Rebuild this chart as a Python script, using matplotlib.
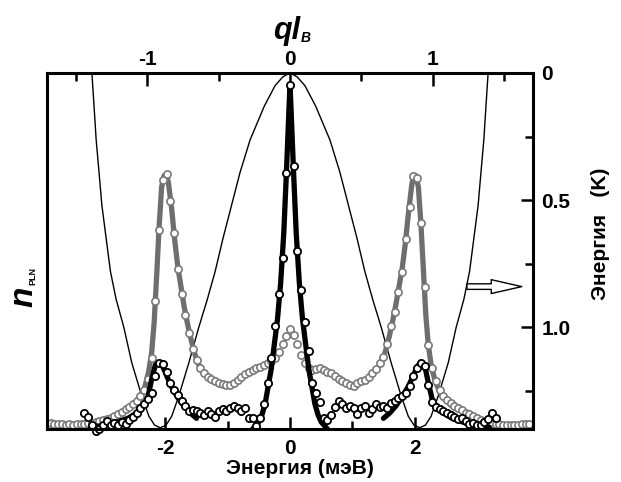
import matplotlib
matplotlib.use('Agg')
import matplotlib.pyplot as plt

plt.rcParams['font.family'] = ['Liberation Sans', 'DejaVu Sans']
plt.rcParams['font.weight'] = 'bold'

# --- data: gray series (measured points), energy in meV, n_PLN in axis units ---
gray_E = [-3.84, -3.78, -3.72, -3.66, -3.60, -3.54, -3.48, -3.42, -3.36, -3.30,
          -3.24, -3.18, -3.12, -3.06, -3.00, -2.94, -2.88, -2.82, -2.76, -2.70,
          -2.64, -2.58, -2.52, -2.46, -2.40, -2.34, -2.28, -2.22, -2.16, -2.10,
          -2.04, -1.98, -1.92, -1.86, -1.80, -1.74, -1.68, -1.62, -1.56, -1.50,
          -1.44, -1.38, -1.32, -1.26, -1.20, -1.14, -1.08, -1.02, -0.96, -0.90,
          -0.84, -0.78, -0.72, -0.66, -0.60, -0.54, -0.48, -0.42, -0.36, -0.30,
          -0.24, -0.18, -0.12, -0.06,
          0.00, 0.06, 0.12, 0.18, 0.24, 0.30, 0.36, 0.42, 0.48, 0.54,
          0.60, 0.66, 0.72, 0.78, 0.84, 0.90, 0.96, 1.02, 1.08, 1.14,
          1.20, 1.26, 1.32, 1.38, 1.44, 1.50, 1.56, 1.62, 1.68, 1.74,
          1.80, 1.86, 1.92, 1.98, 2.04, 2.10, 2.16, 2.22, 2.28, 2.34,
          2.40, 2.46, 2.52, 2.58, 2.64, 2.70, 2.76, 2.82, 2.88, 2.94,
          3.00, 3.06, 3.12, 3.18, 3.24, 3.30, 3.36, 3.42, 3.48, 3.54,
          3.60, 3.66, 3.72, 3.78, 3.84]
gray_n = [0.016, 0.015, 0.014, 0.013, 0.012, 0.013, 0.012, 0.013, 0.014, 0.015,
          0.016, 0.017, 0.019, 0.022, 0.025, 0.028, 0.032, 0.037, 0.042, 0.048,
          0.055, 0.062, 0.070, 0.080, 0.092, 0.110, 0.140, 0.200, 0.360, 0.560,
          0.700, 0.715, 0.640, 0.550, 0.450, 0.380, 0.320, 0.270, 0.225, 0.195,
          0.170, 0.158, 0.147, 0.140, 0.134, 0.130, 0.126, 0.123, 0.125, 0.130,
          0.138, 0.147, 0.155, 0.160, 0.166, 0.170, 0.175, 0.180, 0.185, 0.192,
          0.200, 0.215, 0.238, 0.262,
          0.280, 0.265, 0.240, 0.207, 0.185, 0.172, 0.167, 0.169, 0.171, 0.166,
          0.161, 0.156, 0.150, 0.141, 0.135, 0.130, 0.125, 0.121, 0.128, 0.135,
          0.139, 0.146, 0.158, 0.168, 0.185, 0.203, 0.240, 0.288, 0.330, 0.385,
          0.440, 0.535, 0.625, 0.712, 0.706, 0.579, 0.400, 0.235, 0.170, 0.135,
          0.110, 0.094, 0.082, 0.072, 0.066, 0.059, 0.052, 0.046, 0.041, 0.036,
          0.031, 0.026, 0.021, 0.018, 0.016, 0.015, 0.013, 0.012, 0.012, 0.012,
          0.012, 0.012, 0.013, 0.014, 0.015]

# --- black series (measured points) ---
black_E = [-3.30, -3.24, -3.18, -3.12, -3.06, -3.00, -2.94, -2.88, -2.82, -2.76,
           -2.70, -2.64, -2.58, -2.52, -2.46, -2.40, -2.34, -2.28, -2.22, -2.16,
           -2.10, -2.04, -1.98, -1.92, -1.86, -1.80, -1.74, -1.68, -1.62, -1.56,
           -1.50, -1.44, -1.38, -1.32, -1.26, -1.20, -1.14, -1.08, -1.02, -0.96,
           -0.90, -0.84, -0.78, -0.72, -0.66, -0.60, -0.54, -0.48, -0.42, -0.36,
           -0.30, -0.24, -0.18, -0.12, -0.06,
           0.00, 0.06, 0.12, 0.18, 0.24, 0.30, 0.36, 0.42, 0.48, 0.54,
           0.60, 0.66, 0.72, 0.78, 0.84, 0.90, 0.96, 1.02, 1.08, 1.14,
           1.20, 1.26, 1.32, 1.38, 1.44, 1.50, 1.56, 1.62, 1.68, 1.74,
           1.80, 1.86, 1.92, 1.98, 2.04, 2.10, 2.16, 2.22, 2.28, 2.34,
           2.40, 2.46, 2.52, 2.58, 2.64, 2.70, 2.76, 2.82, 2.88, 2.94,
           3.00, 3.06, 3.12, 3.18, 3.24, 3.30]
black_n = [0.045, 0.035, 0.010, -0.005, 0.000, 0.010, 0.022, 0.012, 0.018, 0.010,
           0.020, 0.015, 0.025, 0.035, 0.045, 0.060, 0.070, 0.085, 0.100, 0.150,
           0.185, 0.182, 0.160, 0.130, 0.110, 0.095, 0.080, 0.065, 0.050, 0.052,
           0.050, 0.045, 0.040, 0.050, 0.043, 0.035, 0.050, 0.055, 0.050, 0.058,
           0.065, 0.060, 0.050, 0.060, 0.030, 0.030, 0.008, 0.030, 0.070, 0.130,
           0.200, 0.290, 0.380, 0.480, 0.720,
           0.965, 0.740, 0.500, 0.390, 0.300, 0.220, 0.130, 0.100, 0.075, 0.030,
           0.025, 0.040, 0.062, 0.078, 0.070, 0.058, 0.064, 0.058, 0.042, 0.060,
           0.066, 0.045, 0.055, 0.070, 0.062, 0.064, 0.060, 0.072, 0.080, 0.088,
           0.093, 0.100, 0.120, 0.148, 0.172, 0.186, 0.178, 0.125, 0.075, 0.062,
           0.055, 0.050, 0.046, 0.040, 0.035, 0.028, 0.030, 0.022, 0.015, 0.018,
           0.010, 0.012, 0.020, 0.028, 0.045, 0.030]

# --- fitted curves (thick lines) ---
black_fit_E = [-3.2, -3.0, -2.8, -2.6, -2.46, -2.36, -2.28, -2.22, -2.16, -2.10,
               -2.04, -1.98, -1.90, -1.80, -1.70, -1.60, -1.50]
black_fit_n = [0.005, 0.010, 0.018, 0.030, 0.045, 0.062, 0.090, 0.140, 0.180, 0.188,
               0.175, 0.150, 0.118, 0.088, 0.064, 0.045, 0.030]
black_fit_c_E = [-0.60, -0.50, -0.45, -0.40, -0.35, -0.30, -0.25, -0.20, -0.15, -0.10,
                 -0.06, -0.03, 0.00, 0.03, 0.06, 0.10, 0.15, 0.20, 0.25, 0.30,
                 0.35, 0.40, 0.45, 0.50, 0.60]
black_fit_c_n = [0.000, 0.020, 0.040, 0.070, 0.120, 0.170, 0.240, 0.310, 0.410, 0.550,
                 0.710, 0.840, 0.970, 0.840, 0.710, 0.550, 0.410, 0.310, 0.240, 0.170,
                 0.120, 0.070, 0.040, 0.020, 0.000]
black_fit_r_E = [1.50, 1.60, 1.70, 1.80, 1.90, 1.98, 2.04, 2.10, 2.16, 2.22,
                 2.28, 2.36, 2.46, 2.60, 2.80, 3.00, 3.20]
black_fit_r_n = [0.030, 0.045, 0.065, 0.090, 0.120, 0.150, 0.175, 0.188, 0.180, 0.130,
                 0.085, 0.060, 0.045, 0.030, 0.018, 0.010, 0.005]

gray_fit_l_E = [-2.60, -2.50, -2.40, -2.33, -2.27, -2.22, -2.18, -2.14, -2.10, -2.06,
                -2.02, -1.98, -1.95, -1.90, -1.85, -1.80, -1.75, -1.70, -1.65, -1.60,
                -1.55, -1.50, -1.45]
gray_fit_l_n = [0.060, 0.072, 0.092, 0.118, 0.160, 0.215, 0.300, 0.430, 0.570, 0.680,
                0.712, 0.715, 0.690, 0.620, 0.530, 0.455, 0.400, 0.345, 0.300, 0.260,
                0.225, 0.195, 0.175]
gray_fit_r_E = [1.45, 1.50, 1.55, 1.60, 1.65, 1.70, 1.75, 1.80, 1.85, 1.90,
                1.95, 1.98, 2.02, 2.06, 2.10, 2.14, 2.18, 2.22, 2.27, 2.33,
                2.40, 2.50, 2.60]
gray_fit_r_n = [0.185, 0.200, 0.230, 0.265, 0.305, 0.350, 0.400, 0.450, 0.520, 0.605,
                0.680, 0.712, 0.712, 0.680, 0.580, 0.450, 0.320, 0.235, 0.175, 0.135,
                0.105, 0.080, 0.065]

# --- thin dispersion curve: q*l_B (top axis) vs energy in K (right axis) ---
disp_q = [-1.42, -1.39, -1.375, -1.36, -1.34, -1.32, -1.29, -1.26, -1.22, -1.166,
          -1.11, -1.04, -0.99, -0.95, -0.91, -0.87, -0.83, -0.78, -0.71, -0.64,
          -0.58, -0.525, -0.47, -0.41, -0.35, -0.28, -0.18, -0.105, -0.05, 0.0,
          0.05, 0.105, 0.18, 0.28, 0.35, 0.41, 0.47, 0.525, 0.58, 0.64,
          0.71, 0.78, 0.83, 0.87, 0.91, 0.95, 0.99, 1.04, 1.11, 1.166,
          1.22, 1.26, 1.29, 1.32, 1.34, 1.36, 1.375, 1.39, 1.42]
disp_K = [-0.20, 0.00, 0.13, 0.263, 0.39, 0.52, 0.65, 0.78, 0.89, 1.00,
          1.14, 1.27, 1.35, 1.385, 1.395, 1.385, 1.35, 1.27, 1.14, 1.00,
          0.89, 0.78, 0.65, 0.52, 0.39, 0.263, 0.13, 0.05, 0.015, 0.0,
          0.015, 0.05, 0.13, 0.263, 0.39, 0.52, 0.65, 0.78, 0.89, 1.00,
          1.14, 1.27, 1.35, 1.385, 1.395, 1.385, 1.35, 1.27, 1.14, 1.00,
          0.89, 0.78, 0.65, 0.52, 0.39, 0.263, 0.13, 0.00, -0.20]

bottom_ticks = [-2, 0, 2]
bottom_labels = ['-2', '0', '2']
top_ticks = [-1, 0, 1]
top_labels = ['-1', '0', '1']
right_ticks = [0, 0.5, 1.0]
right_labels = ['0', '0.5', '1.0']

W, H = 621, 482
fig = plt.figure(figsize=(W / 100, H / 100), dpi=100)
rect = [47 / W, 1 - 429 / H, 486 / W, 356 / H]

# axis for q / K (drawn underneath)
axk = fig.add_axes(rect, frameon=False, zorder=0)
axk.plot(disp_q, disp_K, color='black', lw=1.0)
axk.set_xlim(-1.705, 1.705)
axk.set_ylim(1.4, 0)
axk.xaxis.tick_top()
axk.yaxis.tick_right()
axk.set_xticks(top_ticks)
axk.set_xticklabels(top_labels)
axk.set_xticks([-1.5, -0.5, 0.5, 1.5], minor=True)
axk.set_yticks(right_ticks)
axk.set_yticklabels(right_labels)
axk.set_yticks([0.25, 0.75, 1.25], minor=True)
axk.tick_params(which='both', direction='in', width=1.8, labelsize=15)
axk.tick_params(which='major', length=9)
axk.tick_params(which='minor', length=6)
axk.tick_params(axis='x', pad=3)
axk.tick_params(axis='y', pad=6)

ax = fig.add_axes(rect, zorder=1)
ax.patch.set_visible(False)

ax.plot(gray_fit_l_E, gray_fit_l_n, color='#6e6e6e', lw=3.8, solid_capstyle='round')
ax.plot(gray_fit_r_E, gray_fit_r_n, color='#6e6e6e', lw=3.8, solid_capstyle='round')
ax.plot(gray_E, gray_n, ls='none', marker='o', ms=5.2, mfc='white', mec='#7a7a7a',
        mew=1.2, clip_on=False)
ax.plot(black_fit_E, black_fit_n, color='black', lw=3.8, solid_capstyle='round')
ax.plot(black_fit_c_E, black_fit_c_n, color='black', lw=3.8, solid_capstyle='round')
ax.plot(black_fit_r_E, black_fit_r_n, color='black', lw=3.8, solid_capstyle='round')
ax.plot(black_E, black_n, ls='none', marker='o', ms=5.2, mfc='white', mec='black',
        mew=1.3, clip_on=False)

ax.annotate('', xy=(3.72, 0.40), xytext=(2.84, 0.40),
            arrowprops=dict(arrowstyle='simple,head_length=1.1,head_width=0.5,tail_width=0.2',
                            mutation_scale=20, fc='white', ec='black', lw=1,
                            shrinkA=0, shrinkB=0))

ax.set_xlim(-3.9, 3.9)
ax.set_ylim(0, 1)
ax.set_yticks([])
ax.set_xticks(bottom_ticks)
ax.set_xticklabels(bottom_labels)
ax.set_xticks([-3, -1, 1, 3], minor=True)
ax.tick_params(which='both', direction='in', width=1.8, labelsize=15, pad=7)
ax.tick_params(which='major', length=9)
ax.tick_params(which='minor', length=6)
for s in ax.spines.values():
    s.set_linewidth(2.2)

fig.text(300 / W, 1 - 469 / H, 'Энергия (мэВ)', fontsize=15, fontweight='bold',
         ha='center', va='center')
fig.text(601 / W, 1 - 234 / H, 'Энергия   (K)', fontsize=15, fontweight='bold',
         ha='center', va='center', rotation=90)
fig.text(300 / W, 1 - 31 / H, 'ql', fontsize=22, fontweight='bold', style='italic',
         ha='right', va='center')
fig.text(301 / W, 1 - 38 / H, 'B', fontsize=10, fontweight='bold', style='italic',
         ha='left', va='center')
fig.text(24 / W, 1 - 287 / H, 'n', fontsize=24, fontweight='bold', style='italic',
         ha='center', va='top', rotation=90)
fig.text(33 / W, 1 - 285 / H, 'PLN', fontsize=6.5, fontweight='bold',
         ha='center', va='bottom', rotation=90)

fig.savefig('out.png', dpi=100)
